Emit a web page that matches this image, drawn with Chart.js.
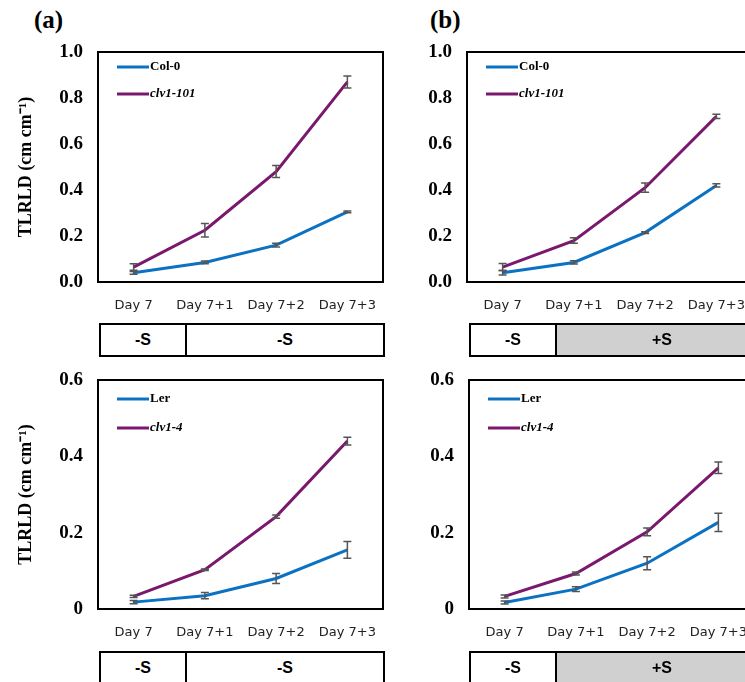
<!DOCTYPE html>
<html lang="en">
<head>
<meta charset="UTF-8">
<title>TLRLD</title>
<script src="https://cdn.jsdelivr.net/npm/chart.js"></script>
<style>
  html, body { margin: 0; padding: 0; background: #fff; }
  body { width: 745px; height: 682px; position: relative; overflow: hidden; }
  canvas { position: absolute; }
  .panel-label { position: absolute; font: bold 25px "Liberation Serif", serif; color: #000; }
  .cond { position: absolute; display: flex; border: 2px solid #000; box-sizing: border-box; height: 34px;
          font: bold 16px "Liberation Sans", Arial, sans-serif; }
  .cond div { display: flex; align-items: center; justify-content: center; }
  .cond .first { border-right: 2px solid #000; }
  .grey { background: #d0d0d0; }
</style>
</head>
<body>
<div class="panel-label" style="left:34px;top:6px;">(a)</div>
<div class="panel-label" style="left:430px;top:6px;">(b)</div>

<canvas id="chartA1" width="385" height="282" style="left:0;top:40px;"></canvas>
<canvas id="chartB1" width="392" height="282" style="left:370px;top:40px;"></canvas>
<canvas id="chartA2" width="385" height="281" style="left:0;top:368px;"></canvas>
<canvas id="chartB2" width="394" height="281" style="left:370px;top:368px;"></canvas>

<div class="cond" style="left:99px;top:323px;width:286px;">
  <div class="first" style="width:84px;">-S</div><div style="flex:1;">-S</div>
</div>
<div class="cond" style="left:469px;top:323px;width:300px;">
  <div class="first" style="width:84px;">-S</div><div class="grey" style="flex:1;">+S</div>
</div>
<div class="cond" style="left:99px;top:651px;width:286px;">
  <div class="first" style="width:84px;">-S</div><div style="flex:1;">-S</div>
</div>
<div class="cond" style="left:469px;top:651px;width:300px;">
  <div class="first" style="width:84px;">-S</div><div class="grey" style="flex:1;">+S</div>
</div>

<script>
// categories
const days = ["Day 7", "Day 7+1", "Day 7+2", "Day 7+3"];

// (a) top: Col-0 / clv1-101, -S then -S
const colA = [0.04, 0.085, 0.16, 0.305];
const colAErr = [0.006, 0.006, 0.008, 0.004];
const clv101A = [0.065, 0.225, 0.48, 0.87];
const clv101AErr = [0.014, 0.029, 0.026, 0.026];

// (b) top: Col-0 / clv1-101, -S then +S
const colB = [0.04, 0.085, 0.215, 0.42];
const colBErr = [0.01, 0.007, 0.004, 0.007];
const clv101B = [0.065, 0.18, 0.41, 0.72];
const clv101BErr = [0.015, 0.012, 0.02, 0.009];

// (a) bottom: Ler / clv1-4
const lerA = [0.018, 0.035, 0.08, 0.155];
const lerAErr = [0.004, 0.008, 0.013, 0.022];
const clv4A = [0.033, 0.103, 0.242, 0.44];
const clv4AErr = [0.003, 0.002, 0.004, 0.01];

// (b) bottom: Ler / clv1-4
const lerB = [0.017, 0.052, 0.12, 0.227];
const lerBErr = [0.004, 0.006, 0.017, 0.024];
const clv4B = [0.033, 0.093, 0.202, 0.37];
const clv4BErr = [0.004, 0.004, 0.01, 0.015];

const topTicks = [0, 0.2, 0.4, 0.6, 0.8, 1.0];
const bottomTicks = [0, 0.2, 0.4, 0.6];

const BLUE = "#0b72c3";
const PURPLE = "#7a186e";

// frame around the plot area
const framePlugin = {
  id: "frame",
  afterDraw(chart) {
    const { ctx, chartArea: a } = chart;
    ctx.save();
    ctx.strokeStyle = "#000";
    ctx.lineWidth = 2;
    ctx.strokeRect(a.left, a.top, a.right - a.left, a.bottom - a.top);
    ctx.restore();
  }
};

// error bars from dataset.errors
const errorBarPlugin = {
  id: "errorBars",
  afterDatasetsDraw(chart) {
    const { ctx } = chart;
    const y = chart.scales.y;
    ctx.save();
    ctx.strokeStyle = "#555";
    ctx.lineWidth = 1.5;
    chart.data.datasets.forEach((ds, i) => {
      const meta = chart.getDatasetMeta(i);
      meta.data.forEach((pt, j) => {
        const e = ds.errors[j];
        const yHi = y.getPixelForValue(ds.data[j] + e);
        const yLo = y.getPixelForValue(ds.data[j] - e);
        ctx.beginPath();
        ctx.moveTo(pt.x, yHi); ctx.lineTo(pt.x, yLo);
        ctx.moveTo(pt.x - 4, yHi); ctx.lineTo(pt.x + 4, yHi);
        ctx.moveTo(pt.x - 4, yLo); ctx.lineTo(pt.x + 4, yLo);
        ctx.stroke();
      });
    });
    ctx.restore();
  }
};

// legend drawn inside the plot, top left
const innerLegendPlugin = {
  id: "innerLegend",
  afterDraw(chart, args, opts) {
    const { ctx, chartArea: a } = chart;
    ctx.save();
    chart.data.datasets.forEach((ds, i) => {
      const ly = a.top + opts.rows[i];
      ctx.strokeStyle = ds.borderColor;
      ctx.lineWidth = 3;
      ctx.beginPath();
      ctx.moveTo(a.left + 19, ly);
      ctx.lineTo(a.left + 51, ly);
      ctx.stroke();
      ctx.fillStyle = "#000";
      ctx.textBaseline = "middle";
      ctx.font = (i === 1 ? "italic " : "") + "bold 13px 'Liberation Serif', serif";
      ctx.fillText(ds.label, a.left + 52, ly);
    });
    ctx.restore();
  }
};

function makeChart(id, d1, e1, d2, e2, names, yMax, ticks, showTitle, yWidth, rows, padRight) {
  return new Chart(document.getElementById(id), {
    type: "line",
    data: {
      labels: days,
      datasets: [
        { label: names[0], data: d1, errors: e1, borderColor: BLUE, backgroundColor: BLUE,
          borderWidth: 3, pointRadius: 0, tension: 0 },
        { label: names[1], data: d2, errors: e2, borderColor: PURPLE, backgroundColor: PURPLE,
          borderWidth: 3, pointRadius: 0, tension: 0 }
      ]
    },
    options: {
      responsive: false,
      animation: false,
      layout: { padding: { top: 12, right: padRight, left: 0, bottom: 0 } },
      plugins: {
        legend: { display: false },
        tooltip: { enabled: false },
        innerLegend: { rows: rows }
      },
      scales: {
        x: {
          offset: true,
          grid: { display: false, drawTicks: false },
          border: { display: false },
          ticks: { color: "#222", padding: 16, maxRotation: 0,
                   font: { family: "'DejaVu Sans', sans-serif", size: 13 } },
          afterFit(scale) {
            scale.height = 40;
            scale.paddingLeft = 0;
            scale.paddingRight = 0;
          }
        },
        y: {
          min: 0,
          max: yMax,
          grid: { display: false, drawTicks: false },
          border: { display: false },
          afterBuildTicks(scale) { scale.ticks = ticks.map(v => ({ value: v })); },
          ticks: {
            color: "#000",
            padding: 15,
            font: { family: "'Liberation Serif', serif", size: 19, weight: "bold" },
            callback: v => (yMax < 1 && v === 0) ? "0" : v.toFixed(1)
          },
          title: {
            display: showTitle,
            text: "TLRLD (cm cm\u207B\u00B9)",
            color: "#000",
            padding: { top: 16, bottom: 0 },
            font: { family: "'Liberation Serif', serif", size: 18, weight: "bold" }
          },
          afterFit(scale) {
            scale.width = yWidth;
            scale.paddingTop = 0;
            scale.paddingBottom = 0;
          }
        }
      }
    },
    plugins: [framePlugin, errorBarPlugin, innerLegendPlugin]
  });
}

makeChart("chartA1", colA, colAErr, clv101A, clv101AErr, ["Col-0", "clv1-101"], 1.0, topTicks, true, 98, [15, 42], 2);
makeChart("chartB1", colB, colBErr, clv101B, clv101BErr, ["Col-0", "clv1-101"], 1.0, topTicks, false, 97, [15, 42], 10);
makeChart("chartA2", lerA, lerAErr, clv4A, clv4AErr, ["Ler", "clv1-4"], 0.6, bottomTicks, true, 98, [19, 48], 2);
makeChart("chartB2", lerB, lerBErr, clv4B, clv4BErr, ["Ler", "clv1-4"], 0.6, bottomTicks, false, 99, [19, 48], 10);
</script>
</body>
</html>
